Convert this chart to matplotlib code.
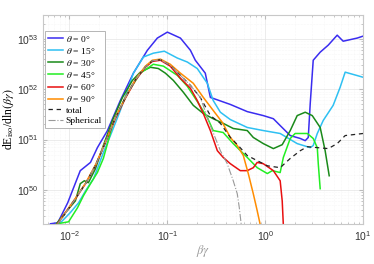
import matplotlib
matplotlib.use('Agg')
import matplotlib.pyplot as plt
from matplotlib.ticker import LogLocator, NullFormatter

plt.rcParams['font.family'] = ['Liberation Serif', 'DejaVu Serif']
plt.rcParams['mathtext.fontset'] = 'stix'

# theta = 0
x0 = [0.0064, 0.0076, 0.0096, 0.0129, 0.0164, 0.0193, 0.0244, 0.0331, 0.045, 0.0625, 0.079, 0.1,
      0.136, 0.172, 0.193, 0.244, 0.275, 0.294, 0.44, 0.655, 0.955, 1.21, 1.42, 1.8, 2.28, 2.56,
      2.75, 2.88, 3.09, 3.64, 4.4, 5.43, 6.25, 8.69, 10]
y0 = [2.1e49, 2.2e49, 5.5e49, 2.4e50, 3.5e50, 6.9e50, 1.5e51, 6.0e51, 2.1e52, 6.0e52, 1.05e53, 1.38e53,
      1.05e53, 6.0e52, 3.8e52, 2.1e52, 6.9e51, 6.6e51, 5.0e51, 3.6e51, 3.0e51, 2.6e51, 1.9e51, 1.2e51,
      1.05e51, 9.5e50, 1.1e51, 5.2e51, 3.8e52, 5.5e52, 7.6e52, 1.2e53, 9.1e52, 1.05e53, 1.15e53]

# theta = 15
x15 = [0.0081, 0.0102, 0.0124, 0.0146, 0.0176, 0.0198, 0.0222, 0.0262, 0.0331, 0.045, 0.0569, 0.0719,
       0.0931, 0.1265, 0.16, 0.202, 0.256, 0.294, 0.348, 0.44, 0.655, 0.955, 1.42, 2.12, 2.88, 3.09,
       3.40, 3.91, 4.94, 5.82, 6.55, 10]
y15 = [2.2e49, 3.5e49, 5.5e49, 9.5e49, 1.66e50, 3.0e50, 5.5e50, 1.2e51, 3.8e51, 2.1e52, 4.4e52, 5.25e52,
       5.75e52, 4.2e52, 3.5e52, 2.6e52, 1.32e52, 6.0e51, 3.5e51, 2.5e51, 1.74e51, 1.51e51, 1.32e51, 8.3e50,
       6.9e50, 7.6e50, 1.32e51, 2.4e51, 4.8e51, 1.1e52, 2.2e52, 1.74e52]

# theta = 30
x30 = [0.00736, 0.0091, 0.0115, 0.0129, 0.0142, 0.0156, 0.0184, 0.0222, 0.0275, 0.0348, 0.044, 0.053,
       0.0671, 0.0809, 0.0955, 0.115, 0.146, 0.184, 0.233, 0.294, 0.372, 0.471, 0.655, 0.755, 0.955,
       1.21, 1.49, 1.80, 2.12, 2.56, 3.02, 3.64, 4.09, 4.50]
y30 = [2.1e49, 3.5e49, 6.0e49, 1.32e50, 1.51e50, 1.38e50, 2.6e50, 7.6e50, 2.4e51, 6.9e51, 1.51e52, 2.2e52,
       2.75e52, 2.6e52, 2.1e52, 1.51e52, 8.7e51, 4.8e51, 3.3e51, 2.6e51, 2.1e51, 1.66e51, 1.51e51, 1.1e51,
       8.3e50, 6.6e50, 7.9e50, 1.51e51, 3.0e51, 3.5e51, 3.0e51, 1.74e51, 6.0e50, 1.9e50]

# theta = 45
x45 = [0.00755, 0.0098, 0.0121, 0.0139, 0.0164, 0.0193, 0.0222, 0.0281, 0.0391, 0.053, 0.0719, 0.091,
       0.1265, 0.16, 0.202, 0.256, 0.294, 0.372, 0.471, 0.655, 0.828, 1.05, 1.18, 1.42, 1.53, 1.80,
       2.02, 2.69, 3.09, 3.40, 3.48, 3.64]
y45 = [2.1e49, 2.3e49, 4.4e49, 7.6e49, 1.32e50, 2.2e50, 4.2e50, 2.2e51, 8.3e51, 2.1e52, 3.16e52, 2.9e52,
       1.9e52, 1.15e52, 5.75e51, 2.75e51, 1.51e51, 1.38e51, 8.3e50, 4.4e50, 2.75e50, 2.1e50, 2.4e50, 2.2e50,
       4.4e50, 1.05e51, 1.32e51, 1.32e51, 1.05e51, 6.9e50, 3.3e50, 1.05e50]

# theta = 60
x60 = [0.00755, 0.0091, 0.0115, 0.0146, 0.0184, 0.0233, 0.0294, 0.0372, 0.0471, 0.0597, 0.0703, 0.0849,
       0.107, 0.136, 0.172, 0.202, 0.233, 0.275, 0.324, 0.372, 0.44, 0.556, 0.655, 0.755, 0.828, 0.955,
       1.21, 1.42, 1.49, 1.53]
y60 = [2.1e49, 3.5e49, 6.6e49, 1.32e50, 3.0e50, 8.7e50, 2.6e51, 6.6e51, 1.51e52, 2.75e52, 3.6e52, 3.8e52,
       2.9e52, 1.66e52, 1.05e52, 6.0e51, 3.3e51, 1.51e51, 6.0e50, 4.4e50, 3.3e50, 2.4e50, 2.4e50, 2.75e50,
       3.5e50, 3.3e50, 2.4e50, 1.51e50, 6.0e49, 2.0e49]

# theta = 90
x90 = [0.0076, 0.0092, 0.0116, 0.0147, 0.0185, 0.0234, 0.0294, 0.0372, 0.0471, 0.0597, 0.0703, 0.0849,
       0.107, 0.136, 0.184, 0.233, 0.294, 0.364, 0.44, 0.518, 0.597, 0.671, 0.755, 0.828, 0.889]
y90 = [2.1e49, 3.6e49, 6.9e49, 1.38e50, 3.16e50, 9.1e50, 2.75e51, 6.9e51, 1.58e52, 2.9e52, 3.8e52, 4.0e52,
       3.16e52, 2.1e52, 1.32e52, 6.9e51, 3.8e51, 2.2e51, 1.1e51, 7.6e50, 4.8e50, 2.1e50, 8.3e49, 3.8e49, 2.0e49]

# total
xt = [0.0076, 0.0092, 0.0116, 0.0147, 0.0185, 0.0234, 0.0294, 0.0372, 0.0471, 0.0597, 0.0703, 0.0849,
      0.107, 0.136, 0.172, 0.217, 0.275, 0.348, 0.44, 0.53, 0.655, 0.828, 1.05, 1.42, 1.80, 2.28, 2.69,
      3.40, 4.40, 5.43, 6.55, 10]
yt = [2.1e49, 3.5e49, 6.8e49, 1.35e50, 3.1e50, 8.9e50, 2.7e51, 6.8e51, 1.55e52, 2.8e52, 3.7e52, 3.9e52,
      3.0e52, 1.9e52, 1.2e52, 6.9e51, 3.0e51, 2.1e51, 1.1e51, 7.6e50, 4.8e50, 3.8e50, 3.0e50, 2.75e50,
      4.2e50, 6.0e50, 7.2e50, 6.9e50, 6.6e50, 8.3e50, 1.2e51, 1.32e51]

# spherical
xs = [0.0076, 0.0092, 0.0116, 0.0147, 0.0185, 0.0234, 0.0294, 0.0372, 0.0471, 0.0597, 0.0703, 0.0849,
      0.107, 0.136, 0.172, 0.217, 0.275, 0.348, 0.409, 0.471, 0.518, 0.543, 0.569]
ys = [2.1e49, 3.5e49, 6.8e49, 1.35e50, 3.1e50, 8.9e50, 2.7e51, 6.8e51, 1.55e52, 2.8e52, 3.7e52, 3.9e52,
      3.0e52, 1.9e52, 1.2e52, 6.9e51, 1.9e51, 6.0e50, 3.3e50, 1.51e50, 8.3e49, 4.4e49, 2.0e49]

fig = plt.figure(figsize=(3.74, 2.64), dpi=100)
ax = fig.add_axes([0.115, 0.152, 0.856, 0.791])

lw = 1.1
ax.plot(x0, y0, color='#3a2cf0', lw=lw, label=r'$\theta$ = 0°')
ax.plot(x15, y15, color='#2ec0f2', lw=lw, label=r'$\theta$ = 15°')
ax.plot(x30, y30, color='#1a8a1a', lw=lw, label=r'$\theta$ = 30°')
ax.plot(x45, y45, color='#22ee22', lw=lw, label=r'$\theta$ = 45°')
ax.plot(x60, y60, color='#e81010', lw=lw, label=r'$\theta$ = 60°')
ax.plot(x90, y90, color='#ff8c00', lw=lw, label=r'$\theta$ = 90°')
ax.plot(xt, yt, color='#222222', lw=0.9, ls=(0, (3.5, 3)), label='total')
ax.plot(xs, ys, color='#999999', lw=0.8, ls='-.', label='Spherical')

ax.set_xscale('log')
ax.set_yscale('log')
ax.set_xlim(10**-2.27, 10)
ax.set_ylim(10**49.32, 10**53.48)

ax.xaxis.set_major_locator(LogLocator(base=10, numticks=10))
ax.yaxis.set_major_locator(LogLocator(base=10, numticks=10))
ax.xaxis.set_minor_locator(LogLocator(base=10, subs=range(2, 10), numticks=20))
ax.yaxis.set_minor_locator(LogLocator(base=10, subs=range(2, 10), numticks=20))
ax.xaxis.set_minor_formatter(NullFormatter())
ax.yaxis.set_minor_formatter(NullFormatter())

ax.grid(True, which='major', color='#e4e4e4', lw=0.5)
ax.grid(True, which='minor', color='#f0f0f0', lw=0.4, ls=':')
ax.tick_params(which='both', direction='in', top=True, right=True, colors='#bbbbbb',
               labelcolor='#333333', labelsize=7.5)
ax.tick_params(which='major', length=3)
ax.tick_params(which='minor', length=1.5)
for lab in ax.get_xticklabels() + ax.get_yticklabels():
    lab.set_family(['Liberation Sans', 'DejaVu Sans'])
for s in ax.spines.values():
    s.set_color('#c8c8c8')
    s.set_linewidth(0.8)

ax.set_ylabel(r'dE$_{\rm iso}$/dln$(\beta\gamma)$', fontsize=8.5)
ax.yaxis.set_label_coords(-0.085, 0.5)
ax.set_xlabel(r'$\beta\gamma$', fontsize=9, color='#999999', labelpad=0)

leg = ax.legend(loc='upper left', bbox_to_anchor=(0.006, 0.925), fontsize=6.8, handlelength=1.6,
                handletextpad=0.3, labelspacing=0.22, borderpad=0.3, borderaxespad=0.0,
                fancybox=False, framealpha=1)
leg.get_frame().set_edgecolor('#aaaaaa')
leg.get_frame().set_linewidth(0.6)

fig.savefig('out.png', dpi=100)
